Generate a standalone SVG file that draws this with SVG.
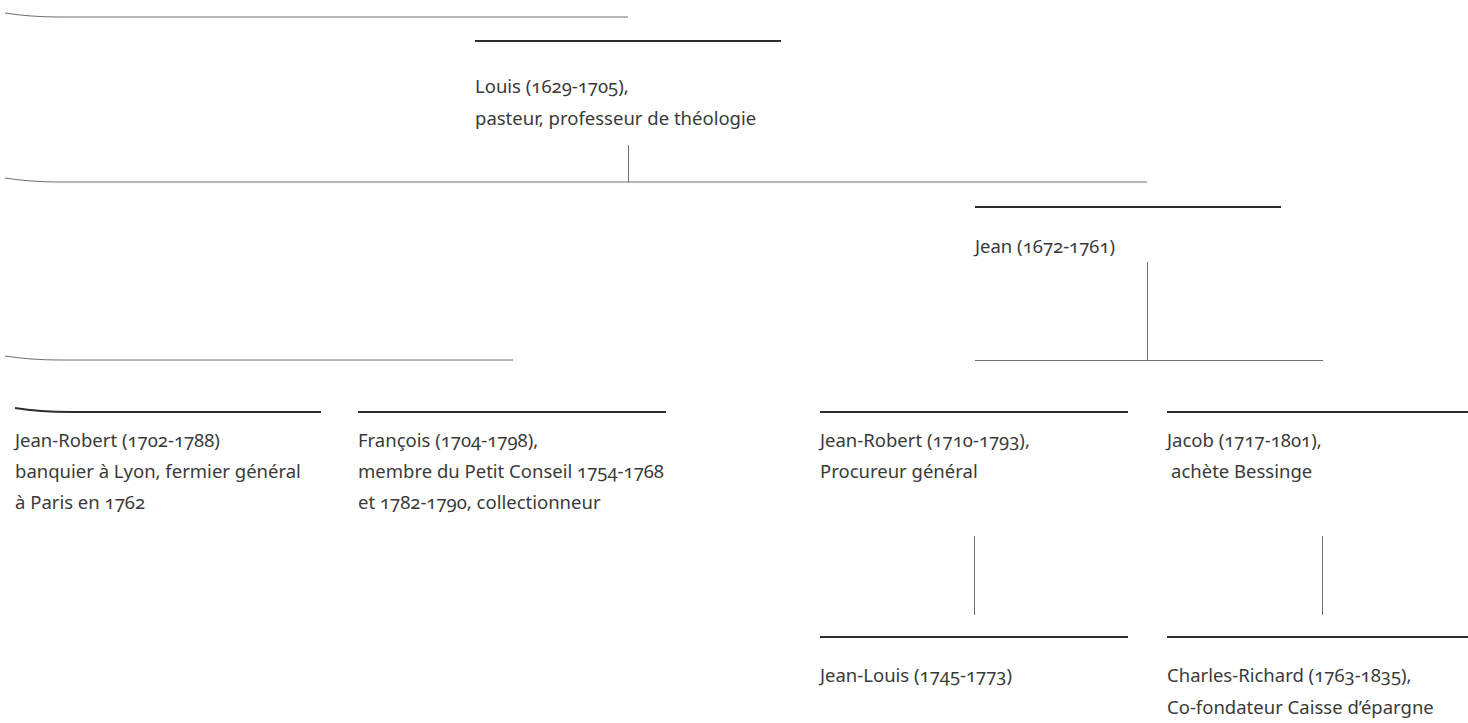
<svg xmlns="http://www.w3.org/2000/svg" width="1468" height="723" viewBox="0 0 1468 723">
<style>
.bg{fill:#ffffff}
.rule{stroke:#2e2e2e;stroke-width:2;fill:none}
.conn{stroke:#6e6e6e;stroke-width:1;fill:none}
text{font-family:"Noto Sans","Liberation Sans",sans-serif;font-size:18.5px;fill:#3a3a3a;font-variant-numeric:oldstyle-nums}
</style>
<rect class="bg" x="0" y="0" width="1468" height="723"/>
<g id="connectors">
<path class="conn" d="M5,13 Q30,17 60,17 L628,17"/>
<path class="conn" d="M5,178 Q30,182 60,182 L1147,182"/>
<line class="conn" x1="628.5" y1="145" x2="628.5" y2="182"/>
<line class="conn" x1="1147.5" y1="262" x2="1147.5" y2="360"/>
<line class="conn" x1="975" y1="360.5" x2="1323" y2="360.5"/>
<path class="conn" d="M5,356 Q30,360 60,360 L513,360"/>
<line class="conn" x1="974.5" y1="536" x2="974.5" y2="615"/>
<line class="conn" x1="1322.5" y1="536" x2="1322.5" y2="615"/>
</g>
<g id="louis">
<line class="rule" x1="475" y1="41" x2="781" y2="41"/>
<text x="475" y="93">Louis (1629-1705),</text>
<text x="475" y="125">pasteur, professeur de théologie</text>
</g>
<g id="jean">
<line class="rule" x1="975" y1="207" x2="1281" y2="207"/>
<text x="975" y="253">Jean (1672-1761)</text>
</g>
<g id="jean-robert-1702">
<path class="rule" d="M15,408 Q40,412 70,412 L321,412"/>
<text x="15" y="447">Jean-Robert (1702-1788)</text>
<text x="15" y="478">banquier à Lyon, fermier général</text>
<text x="15" y="509">à Paris en 1762</text>
</g>
<g id="francois">
<line class="rule" x1="358" y1="412" x2="666" y2="412"/>
<text x="358" y="447">François (1704-1798),</text>
<text x="358" y="478">membre du Petit Conseil 1754-1768</text>
<text x="358" y="509">et 1782-1790, collectionneur</text>
</g>
<g id="jean-robert-1710">
<line class="rule" x1="820" y1="412" x2="1128" y2="412"/>
<text x="820" y="447">Jean-Robert (1710-1793),</text>
<text x="820" y="478">Procureur général</text>
</g>
<g id="jacob">
<line class="rule" x1="1167" y1="412" x2="1468" y2="412"/>
<text x="1167" y="447">Jacob (1717-1801),</text>
<text x="1171" y="478">achète Bessinge</text>
</g>
<g id="jean-louis">
<line class="rule" x1="820" y1="637" x2="1128" y2="637"/>
<text x="820" y="682">Jean-Louis (1745-1773)</text>
</g>
<g id="charles-richard">
<line class="rule" x1="1167" y1="637" x2="1468" y2="637"/>
<text x="1167" y="682">Charles-Richard (1763-1835),</text>
<text x="1167" y="714">Co-fondateur Caisse d’épargne</text>
</g>
</svg>
